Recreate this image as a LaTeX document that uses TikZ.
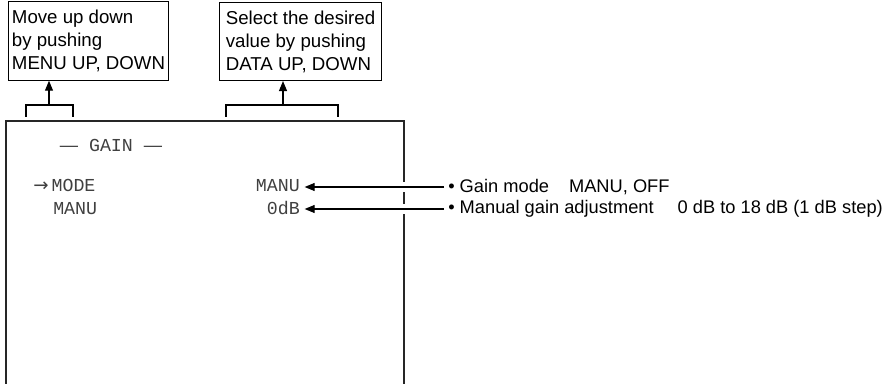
\documentclass[tikz,border=0pt]{standalone}
\usepackage{fontspec}
\setmainfont{Liberation Sans}
\setsansfont{Liberation Sans}
\setmonofont{Liberation Mono}
\newfontfamily\symfont{DejaVu Sans}
\usetikzlibrary{arrows.meta,positioning}

\tikzset{
  callout/.style={draw, line width=0.8pt, anchor=north west, inner xsep=2pt, inner ysep=0pt, align=left, font=\fontsize{14}{17.3}\selectfont},
  screen/.style={line width=1.8pt, black!85},
  lcd/.style={inner sep=0pt, text=black!75, font=\fontsize{13.7}{16}\ttfamily},
  note/.style={inner xsep=3pt, inner ysep=0pt, anchor=west, font=\fontsize{13.7}{16}\selectfont},
  pointer/.style={-{Triangle[length=7.5pt,width=6pt]}, line width=0.8pt},
  gap/.style={preaction={draw=white, line width=7pt, -}},
}

\begin{document}
\begin{tikzpicture}[x=0.75pt,y=-0.75pt]
\useasboundingbox (0,0) rectangle (888,384);

% Help boxes above the screen
\node[callout, minimum width=120pt, minimum height=59pt] (menu) at (8,1) {Move up down\\by pushing\\MENU UP, DOWN};
\node[callout, minimum width=121.5pt, minimum height=58.5pt] (data) at (219,2) {Select the desired\\value by pushing\\DATA UP, DOWN};

% Brackets with arrows up to the help boxes
\coordinate (mtop) at (49,105);
\draw[line width=0.8pt] (26,117) -- (26,105) -- (73,105) -- (73,117);
\draw[pointer] (mtop) -- (mtop |- menu.south);
\coordinate (dtop) at (283,105);
\draw[line width=0.8pt] (226,117) -- (226,105) -- (338,105) -- (338,117);
\draw[pointer] (dtop) -- (dtop |- data.south);

% Screen frame
\draw[screen] (6,384) -- (6,121) -- (404,121) -- (404,384);

% Screen text
\node[lcd] (title) at (111,145) {{\sffamily —}\ GAIN\ {\sffamily —}};
\node[lcd, anchor=base west] (mode) at (33,192) {{\symfont →}\,MODE};
\node[lcd, anchor=base west] (manu) at (53,215) {MANU};
\node[lcd, anchor=base east] (modeval) at (300,192) {MANU};
\node[lcd, anchor=base east] (gainval) at (300,215) {0dB};

% Notes on the right
\node[note] (modenote) at (444,187) {• Gain mode\hspace{15pt}MANU, OFF};
\node[note] (gainnote) at (444,209) {• Manual gain adjustment\hspace{18pt}0 dB to 18 dB (1 dB step)};

\draw[pointer, gap, shorten >=3.5pt] (modenote.west) -- (modenote.west -| modeval.east);
\draw[pointer, gap, shorten >=3.5pt] (gainnote.west) -- (gainnote.west -| gainval.east);
\end{tikzpicture}
\end{document}
